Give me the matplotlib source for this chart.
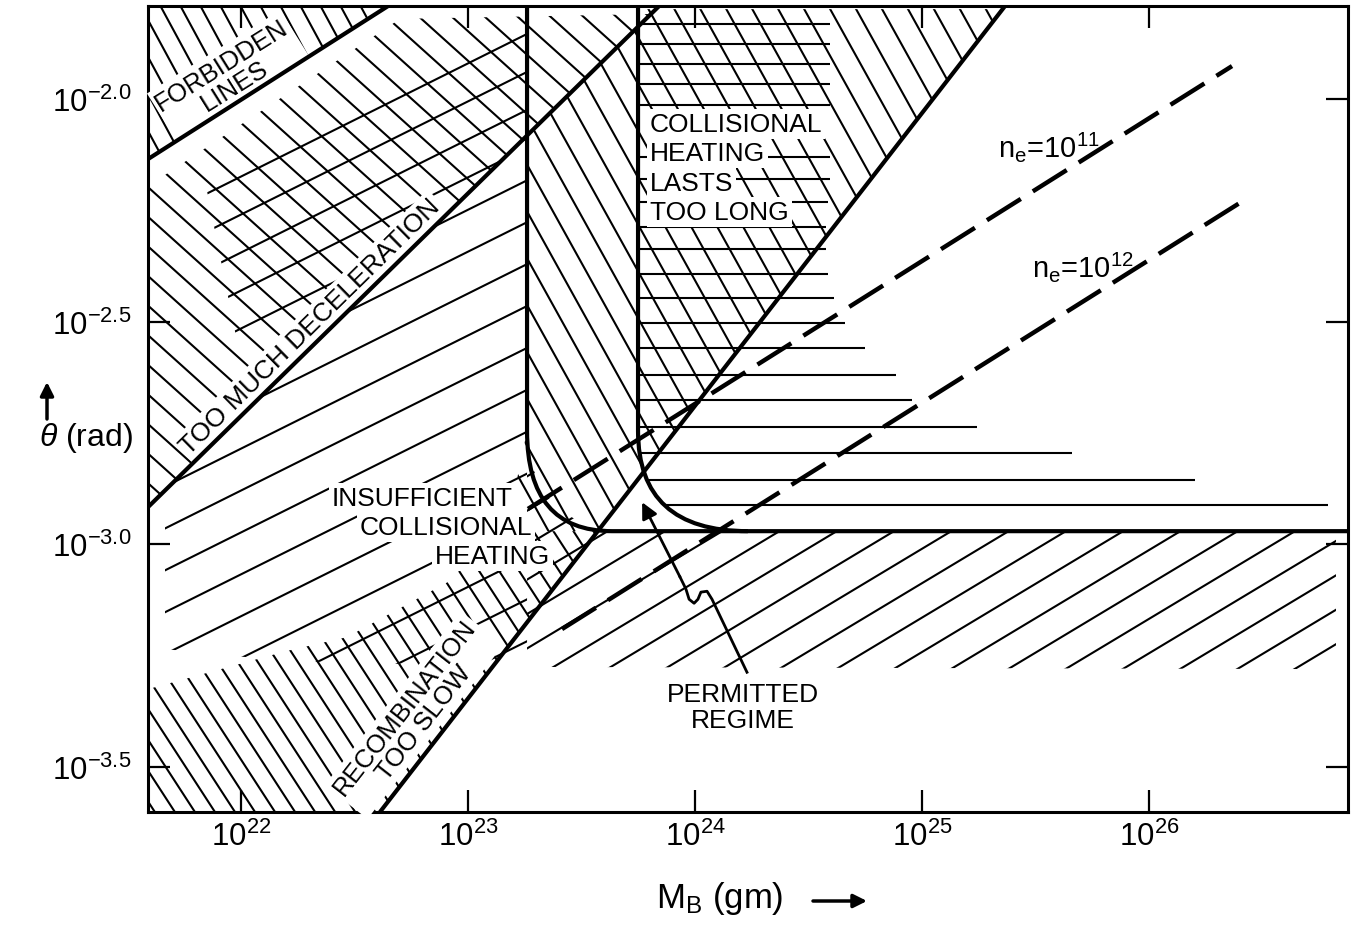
import numpy as np
import matplotlib
matplotlib.use('Agg')
import matplotlib.pyplot as plt
from matplotlib.patches import Polygon, PathPatch
from matplotlib.path import Path
from matplotlib.collections import LineCollection

plt.rcParams['font.family'] = ['Liberation Sans', 'DejaVu Sans']
plt.rcParams['mathtext.fontset'] = 'custom'
plt.rcParams['mathtext.rm'] = 'Liberation Sans'
plt.rcParams['mathtext.it'] = 'Liberation Sans:italic'
plt.rcParams['mathtext.bf'] = 'Liberation Sans:bold'

# everything in log10 units: x = log10(M_B / gm), y = log10(theta / rad)
M_range = [21.59, 26.877]
T_range = [-3.602, -1.791]
M_ticks = [22, 23, 24, 25, 26]
T_ticks = [-2.0, -2.5, -3.0, -3.5]

# boundary lines
forbid_M, forbid_T = [21.590, 22.648], [-2.135, -1.791]
decel_M, decel_T = [21.590, 23.842], [-2.917, -1.791]
recomb_M, recomb_T = [22.612, 25.366], [-3.602, -1.791]

# collisional heating boundaries (vertical part, bend, horizontal part)
insuff_M = [23.260, 23.260, 23.260, 23.634, 26.877]
insuff_T = [-1.791, -2.746, -2.971, -2.971, -2.971]
toolong_M = [23.749, 23.749, 23.749, 24.233]
toolong_T = [-1.791, -2.746, -2.971, -2.971]

# electron density lines
ne11_M, ne11_T = [23.264, 26.366], [-2.921, -1.926]
ne12_M, ne12_T = [23.414, 26.436], [-3.191, -2.222]

# shaded (excluded) zones
forbid_zone_M = [21.590, 22.648, 21.590]
forbid_zone_T = [-1.791, -1.791, -2.135]
decel_zone_M = [21.590, 22.700, 23.806, 21.590]
decel_zone_T = [-2.196, -1.820, -1.809, -2.917]
insuff_up_M = [21.841, 23.260, 23.260, 23.009, 21.996]
insuff_up_T = [-2.184, -1.802, -2.083, -2.207, -2.580]
insuff_left_M = [21.665, 23.260, 23.260, 22.203, 21.665]
insuff_left_T = [-2.879, -2.083, -3.276, -3.263, -3.236]
insuff_low_M = [23.260, 23.282, 23.330, 23.419, 23.524, 23.634, 26.824, 26.824, 23.260]
insuff_low_T = [-2.746, -2.825, -2.883, -2.928, -2.960, -2.971, -2.971, -3.281, -3.276]
recomb_up_M = [23.260, 23.749, 23.749, 25.357, 23.573, 23.079, 23.207, 23.260]
recomb_up_T = [-2.083, -1.838, -1.798, -1.798, -2.971, -2.971, -2.876, -2.746]
recomb_low_M = [23.079, 23.573, 22.612, 21.590, 21.590, 22.203, 22.467, 22.934]
recomb_low_T = [-2.971, -2.971, -3.602, -3.602, -3.326, -3.240, -3.209, -3.079]

# horizontal rulings of the "lasts too long" zone
rows_T = [-1.831, -1.876, -1.921, -1.966, -2.013, -2.130, -2.180, -2.231, -2.288, -2.337,
          -2.393, -2.447, -2.503, -2.560, -2.620, -2.676, -2.737, -2.796, -2.856, -2.912]
rows_end_M = [24.595, 24.595, 24.595, 24.595, 24.595, 24.595, 24.595, 24.586, 24.577, 24.577,
              24.586, 24.612, 24.661, 24.749, 24.885, 24.956, 25.242, 25.661, 26.203, 26.789]

# pointer to the permitted regime
arrow_M = [24.229, 24.075, 24.053, 24.026, 24.013, 23.996, 23.974, 23.960, 23.934]
arrow_T = [-3.288, -3.124, -3.106, -3.108, -3.124, -3.133, -3.124, -3.101, -3.074]
arrow_tip = (23.767, -2.906)

W, H = 1356, 929
fig = plt.figure(figsize=(W / 100, H / 100), dpi=100)
ax = fig.add_axes([148 / W, 1 - 813 / H, 1200 / W, 806 / H])
ax.set_xlim(M_range)
ax.set_ylim(T_range)
ax.set_autoscale_on(False)

# pixels per log unit, used to get hatch angles/spacing right on screen
sx = 1200 / (M_range[1] - M_range[0])
sy = 806 / (T_range[1] - T_range[0])


def hatch(zm, zt, angle, spacing, lw=1.5):
    P = np.column_stack([np.array(zm) * sx, np.array(zt) * sy])
    a = np.radians(angle)
    d = np.array([np.cos(a), np.sin(a)])
    n = np.array([-np.sin(a), np.cos(a)])
    s = P @ n
    t = P @ d
    segs = []
    for c in np.arange(np.floor(s.min() / spacing) * spacing, s.max() + spacing, spacing):
        p0 = c * n + t.min() * d
        p1 = c * n + t.max() * d
        segs.append([(p0[0] / sx, p0[1] / sy), (p1[0] / sx, p1[1] / sy)])
    patch = Polygon(np.column_stack([zm, zt]), closed=True, facecolor='none', edgecolor='none')
    ax.add_patch(patch)
    lc = LineCollection(segs, colors='black', linewidths=lw, zorder=2)
    ax.add_collection(lc)
    lc.set_clip_path(patch)


hatch(forbid_zone_M, forbid_zone_T, -61.6, 17.6)
hatch(decel_zone_M, decel_zone_T, -42, 22)
hatch(insuff_up_M, insuff_up_T, 26.5, 34)
hatch(insuff_left_M, insuff_left_T, 26.5, 37.5)
hatch(insuff_low_M, insuff_low_T, 31, 29.5)
hatch(recomb_up_M, recomb_up_T, -61, 22.7)
hatch(recomb_low_M, recomb_low_T, -57, 16.8)

# horizontal rulings, clipped to inside the "too long" boundary
tl_verts = list(zip(toolong_M, toolong_T)) + [(M_range[1], toolong_T[-1]), (M_range[1], T_range[1]),
                                              (toolong_M[0], T_range[1])]
tl_codes = [Path.MOVETO, Path.LINETO, Path.CURVE3, Path.CURVE3, Path.LINETO, Path.LINETO, Path.CLOSEPOLY]
tl_patch = PathPatch(Path(tl_verts, tl_codes), facecolor='none', edgecolor='none')
ax.add_patch(tl_patch)
rows = LineCollection([[(toolong_M[0], t), (e, t)] for t, e in zip(rows_T, rows_end_M)],
                      colors='black', linewidths=1.5, zorder=2)
ax.add_collection(rows)
rows.set_clip_path(tl_patch)

# boundaries
for xs, ys in [(forbid_M, forbid_T), (decel_M, decel_T), (recomb_M, recomb_T)]:
    ax.plot(xs, ys, color='black', lw=3, zorder=5, solid_capstyle='butt')

ins_codes = [Path.MOVETO, Path.LINETO, Path.CURVE3, Path.CURVE3, Path.LINETO]
ax.add_patch(PathPatch(Path(list(zip(insuff_M, insuff_T)), ins_codes), fill=False, lw=3, zorder=5))
tl_line_codes = [Path.MOVETO, Path.LINETO, Path.CURVE3, Path.CURVE3]
ax.add_patch(PathPatch(Path(list(zip(toolong_M, toolong_T)), tl_line_codes), fill=False, lw=3, zorder=5))

ax.plot(ne11_M, ne11_T, color='black', lw=3.2, dashes=(9, 3.2), dash_capstyle='butt', zorder=5)
ax.plot(ne12_M, ne12_T, color='black', lw=3.2, dashes=(9, 3.2), dash_capstyle='butt', zorder=5)

# permitted regime pointer
ax.plot(arrow_M, arrow_T, color='black', lw=2, zorder=5, solid_joinstyle='round')
ax.annotate('', xy=arrow_tip, xytext=(arrow_M[-1], arrow_T[-1]),
            arrowprops=dict(arrowstyle='-|>', color='black', lw=2, mutation_scale=24,
                            shrinkA=0, shrinkB=0), zorder=5)

# labels
box = dict(facecolor='white', edgecolor='none', pad=2)
fs = 19
ax.text(21.943, -1.946, 'FORBIDDEN\nLINES', rotation=32, ha='center', va='center',
        rotation_mode='anchor', multialignment='center', linespacing=1.05, fontsize=18.5,
        bbox=box, zorder=4)
ax.text(22.304, -2.510, 'TOO MUCH DECELERATION', rotation=44.5, ha='center', va='center',
        rotation_mode='anchor', fontsize=fs, bbox=box, zorder=4)
for txt, yy in [('COLLISIONAL', -2.056), ('HEATING', -2.121), ('LASTS', -2.189), ('TOO LONG', -2.254)]:
    ax.text(23.802, yy, txt, ha='left', va='center', fontsize=fs, bbox=box, zorder=4)
for txt, xx, yy in [('INSUFFICIENT', 23.198, -2.897), ('COLLISIONAL', 23.282, -2.962),
                    ('HEATING', 23.361, -3.027)]:
    ax.text(xx, yy, txt, ha='right', va='center', fontsize=fs, bbox=box, zorder=4)
ax.text(22.762, -3.384, 'RECOMBINATION\nTOO SLOW', rotation=52, ha='center', va='center',
        rotation_mode='anchor', multialignment='center', linespacing=1.05, fontsize=18.5,
        bbox=box, zorder=4)
ax.text(24.211, -3.366, 'PERMITTED\nREGIME', ha='center', va='center', multialignment='center',
        linespacing=1.1, fontsize=fs, zorder=4)
ax.text(25.335, -2.128, r'n$_\mathregular{e}$=10$^\mathregular{11}$', ha='left', va='baseline',
        fontsize=21, zorder=4)
ax.text(25.485, -2.398, r'n$_\mathregular{e}$=10$^\mathregular{12}$', ha='left', va='baseline',
        fontsize=21, zorder=4)

# axes frame and ticks
for sp in ax.spines.values():
    sp.set_linewidth(2.2)
ax.set_xticks(M_ticks)
ax.set_xticklabels([r'$\mathregular{10^{%d}}$' % m for m in M_ticks])
ax.set_yticks(T_ticks)
ax.set_yticklabels([r'$\mathregular{10^{%.1f}}$' % t for t in T_ticks])
ax.tick_params(direction='in', length=16, width=1.6, top=True, right=True, labelsize=22.5)
ax.tick_params(axis='x', pad=6)
ax.tick_params(axis='y', pad=12)
for lab in ax.get_xticklabels():
    lab.set_x(lab.get_position()[0])
    lab.set_horizontalalignment('center')

fig.text(720 / W, 1 - 899 / H, r'M$_\mathregular{B}$ (gm)', ha='center', va='center', fontsize=25)
ax.annotate('', xy=(867 / W, 1 - 902 / H), xytext=(813 / W, 1 - 902 / H), xycoords='figure fraction',
            arrowprops=dict(arrowstyle='-|>', color='black', lw=2.5, mutation_scale=20,
                            shrinkA=0, shrinkB=0), annotation_clip=False)
fig.text(86 / W, 1 - 438 / H, r'$\theta$ (rad)', ha='center', va='center', fontsize=23)
ax.annotate('', xy=(47 / W, 1 - 383 / H), xytext=(47 / W, 1 - 420 / H), xycoords='figure fraction',
            arrowprops=dict(arrowstyle='-|>', color='black', lw=2.5, mutation_scale=20,
                            shrinkA=0, shrinkB=0), annotation_clip=False)

fig.savefig('out.png', dpi=100, facecolor='white')
